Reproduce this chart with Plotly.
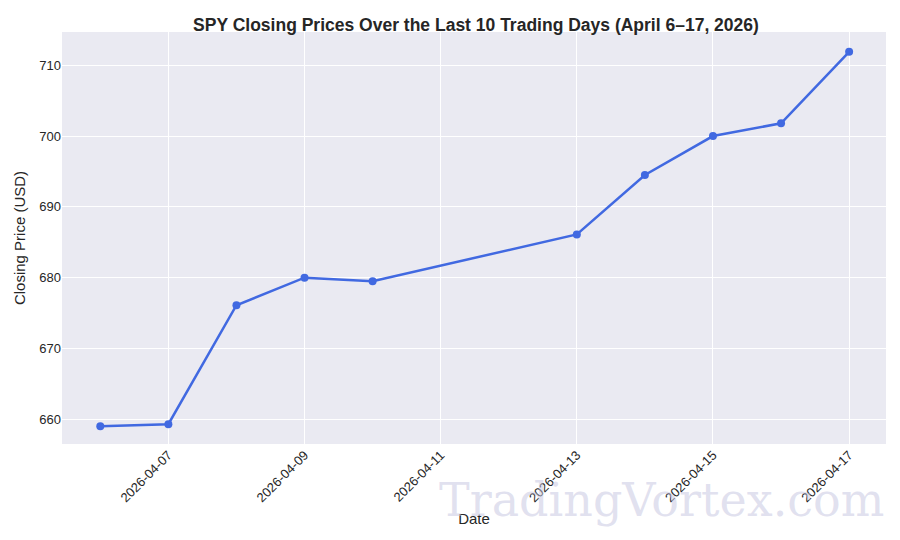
import plotly.graph_objects as go

dates = ["2026-04-06", "2026-04-07", "2026-04-08", "2026-04-09", "2026-04-10",
         "2026-04-13", "2026-04-14", "2026-04-15", "2026-04-16", "2026-04-17"]
closes = [659.0, 659.3, 676.1, 680.0, 679.5, 686.1, 694.5, 700.0, 701.8, 711.9]
tick_dates = ["2026-04-07", "2026-04-09", "2026-04-11", "2026-04-13", "2026-04-15", "2026-04-17"]

fig = go.Figure(go.Scatter(
    x=dates, y=closes, mode="lines+markers",
    line=dict(color="#4169E1", width=2.5),
    marker=dict(color="#4169E1", size=8),
))

fig.update_layout(
    width=900, height=540,
    margin=dict(l=54, r=22, t=24, b=104),
    paper_bgcolor="white", plot_bgcolor="#EAEAF2",
    font=dict(family="Liberation Sans", color="#262626", size=13),
    title=dict(text="<b>SPY Closing Prices Over the Last 10 Trading Days (April 6–17, 2026)</b>",
               x=0.52, xanchor="center", y=0.98, font=dict(size=17.5)),
    showlegend=False,
)
fig.update_xaxes(
    type="date", range=["2026-04-05 10:30", "2026-04-17 13:00"],
    tickvals=tick_dates, ticktext=tick_dates, tickangle=-45, automargin=False,
    gridcolor="white", gridwidth=1.2, zeroline=False, showline=False,
    title=dict(text="Date", font=dict(size=15), standoff=9),
)
fig.update_yaxes(
    range=[656.5, 714.7], tickvals=[660, 670, 680, 690, 700, 710], automargin=False,
    gridcolor="white", gridwidth=1.2, zeroline=False, showline=False,
    title=dict(text="Closing Price (USD)", font=dict(size=15), standoff=10),
)
fig.add_annotation(
    text="TradingVortex.com", xref="paper", yref="paper", x=1.0, y=-0.135,
    xanchor="right", yanchor="middle", showarrow=False,
    font=dict(family="DejaVu Serif", size=46, color="rgba(200,200,225,0.55)"),
)

fig.write_html("out.html")
